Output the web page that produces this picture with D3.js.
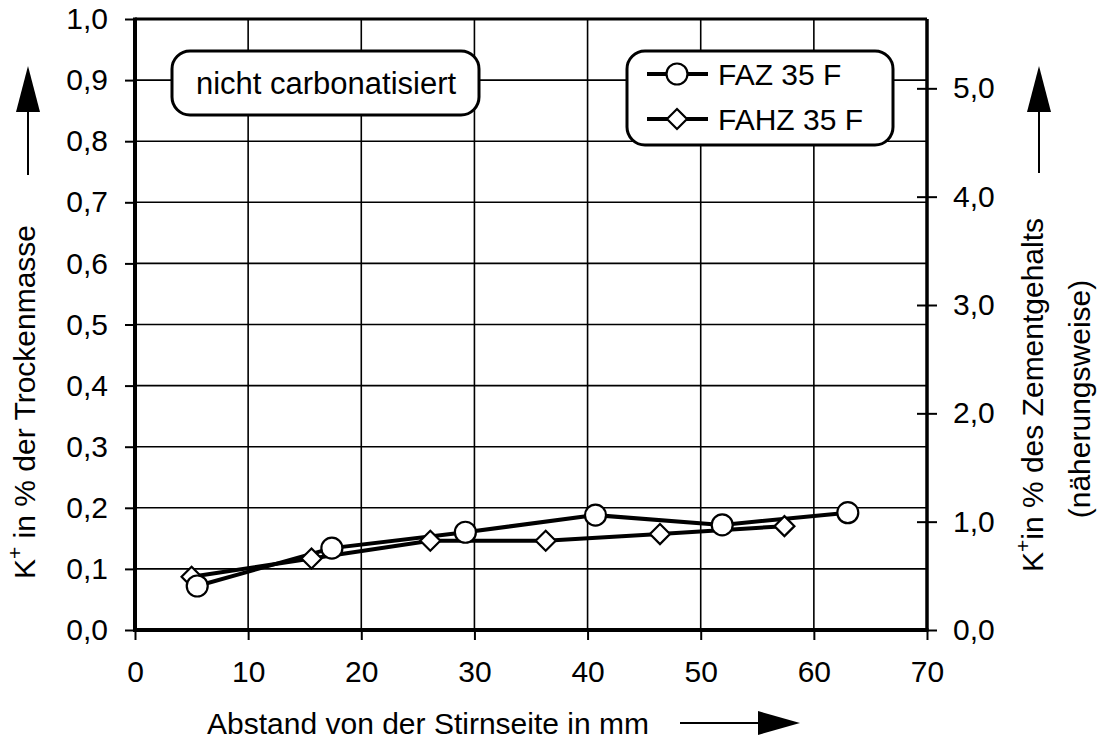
<!DOCTYPE html>
<html><head><meta charset="utf-8">
<script src="https://cdn.jsdelivr.net/npm/d3@7"></script>
<style>body{margin:0;background:#fff}svg{display:block}text{font-family:"Liberation Sans",Arial,sans-serif;fill:#000}</style>
</head><body><svg id="c" width="1101" height="753"></svg>
<script>
const xTicks = [0,10,20,30,40,50,60,70];
const yTicksLeft = [0,0.1,0.2,0.3,0.4,0.5,0.6,0.7,0.8,0.9,1.0];
const yTicksRight = [0,1,2,3,4,5];
const seriesNames = ["FAZ 35 F","FAHZ 35 F"];
const fazX = [5.5,17.4,29.2,40.7,51.9,63.0];
const fazY = [0.072,0.134,0.160,0.188,0.172,0.192];
const fahzX = [5.0,15.6,26.1,36.3,46.4,57.4];
const fahzY = [0.087,0.117,0.146,0.146,0.157,0.170];
const rightMax = 5.64;

const svg = d3.select("#c");
const m = {l:135,r:927,t:19,b:630};
const x = d3.scaleLinear().domain([0,70]).range([m.l,m.r]);
const y = d3.scaleLinear().domain([0,1]).range([m.b,m.t]);
const y2 = d3.scaleLinear().domain([0,rightMax]).range([m.b,m.t]);
const fs = 30;
const fmt = d => d3.format(".1f")(d).replace(".",",");

// gridlines
const g = svg.append("g");
g.selectAll(".vg").data(xTicks.slice(1,-1)).join("line")
 .attr("x1",d=>x(d)).attr("x2",d=>x(d)).attr("y1",m.t).attr("y2",m.b)
 .attr("stroke","#000").attr("stroke-width",1.6);
g.selectAll(".hg").data(yTicksLeft.slice(1,-1)).join("line")
 .attr("y1",d=>y(d)).attr("y2",d=>y(d)).attr("x1",m.l).attr("x2",m.r)
 .attr("stroke","#000").attr("stroke-width",1.6);

// axes
const xa = svg.append("g").attr("transform",`translate(0,${m.b})`)
 .call(d3.axisBottom(x).tickValues(xTicks).tickSize(10).tickPadding(21).tickFormat(d3.format("d")));
const ya = svg.append("g").attr("transform",`translate(${m.l},0)`)
 .call(d3.axisLeft(y).tickValues(yTicksLeft).tickSize(10).tickPadding(17).tickFormat(fmt));
const ya2 = svg.append("g").attr("transform",`translate(${m.r},0)`)
 .call(d3.axisRight(y2).tickValues(yTicksRight).tickSize(10).tickPadding(16).tickFormat(fmt));
ya2.selectAll(".tick line").attr("x1",-10);
[xa,ya,ya2].forEach(a=>{
  a.select(".domain").remove();
  a.selectAll(".tick line").attr("stroke","#000").attr("stroke-width",2);
  a.selectAll("text").attr("font-size",fs).attr("font-family",'"Liberation Sans",Arial,sans-serif');
});
// frame
svg.append("line").attr("x1",m.l).attr("x2",m.r).attr("y1",m.t).attr("y2",m.t).attr("stroke","#000").attr("stroke-width",3);
svg.append("line").attr("x1",m.r).attr("x2",m.r).attr("y1",m.t).attr("y2",m.b).attr("stroke","#000").attr("stroke-width",3.5);
svg.append("line").attr("x1",m.l).attr("x2",m.l).attr("y1",m.t-1.5).attr("y2",m.b+2).attr("stroke","#000").attr("stroke-width",4);
svg.append("line").attr("x1",m.l).attr("x2",m.r+1.5).attr("y1",m.b).attr("y2",m.b).attr("stroke","#000").attr("stroke-width",4);

// series
const line = d3.line().x(d=>x(d[0])).y(d=>y(d[1]));
const fahz = fahzX.map((v,i)=>[v,fahzY[i]]);
const faz = fazX.map((v,i)=>[v,fazY[i]]);
const diamond = (cx,cy,r)=>`M${cx},${cy-r}L${cx+r},${cy}L${cx},${cy+r}L${cx-r},${cy}Z`;
svg.append("path").attr("d",line(fahz)).attr("fill","none").attr("stroke","#000").attr("stroke-width",4);
svg.append("path").attr("d",line(faz)).attr("fill","none").attr("stroke","#000").attr("stroke-width",4);
svg.selectAll(".dm").data(fahz).join("path").attr("d",d=>diamond(x(d[0]),y(d[1]),10))
 .attr("fill","#fff").attr("stroke","#000").attr("stroke-width",2.2);
svg.selectAll(".ci").data(faz).join("circle").attr("cx",d=>x(d[0])).attr("cy",d=>y(d[1])).attr("r",10.5)
 .attr("fill","#fff").attr("stroke","#000").attr("stroke-width",2.2);

// label box
svg.append("rect").attr("x",172).attr("y",51).attr("width",307).attr("height",64).attr("rx",18)
 .attr("fill","#fff").attr("stroke","#000").attr("stroke-width",3);
svg.append("text").attr("x",326).attr("y",83).attr("text-anchor","middle").attr("dominant-baseline","central")
 .attr("font-size",fs+1).text("nicht carbonatisiert");

// legend
svg.append("rect").attr("x",627).attr("y",51).attr("width",266).attr("height",94).attr("rx",18)
 .attr("fill","#fff").attr("stroke","#000").attr("stroke-width",3);
const ly = [74,119];
seriesNames.forEach((n,i)=>{
  svg.append("line").attr("x1",647).attr("x2",708).attr("y1",ly[i]).attr("y2",ly[i]).attr("stroke","#000").attr("stroke-width",4);
  if(i===0) svg.append("circle").attr("cx",677).attr("cy",ly[i]).attr("r",10.5).attr("fill","#fff").attr("stroke","#000").attr("stroke-width",2.2);
  else svg.append("path").attr("d",diamond(677,ly[i],10)).attr("fill","#fff").attr("stroke","#000").attr("stroke-width",2.2);
  svg.append("text").attr("x",718).attr("y",ly[i]).attr("dominant-baseline","central").attr("font-size",fs).text(n);
});

// axis titles
function upArrow(cx, tip, base, bottom){
  svg.append("line").attr("x1",cx).attr("x2",cx).attr("y1",base).attr("y2",bottom).attr("stroke","#000").attr("stroke-width",2);
  svg.append("path").attr("d",`M${cx},${tip}L${cx+12},${base}L${cx-12},${base}Z`).attr("fill","#000");
}
upArrow(28,66,112,175);
upArrow(1039,66,112,173);
const lt = svg.append("text").attr("transform","translate(35,402) rotate(-90)").attr("text-anchor","middle").attr("font-size",fs);
lt.append("tspan").text("K");
lt.append("tspan").attr("font-size",fs*0.7).attr("dy",-13).text("+");
lt.append("tspan").attr("dy",13).text(" in % der Trockenmasse");
const rt = svg.append("text").attr("transform","translate(1043,395) rotate(-90)").attr("text-anchor","middle").attr("font-size",fs);
rt.append("tspan").text("K");
rt.append("tspan").attr("font-size",fs*0.7).attr("dy",-13).text("+");
rt.append("tspan").attr("dy",13).text("in % des Zementgehalts");
svg.append("text").attr("transform","translate(1090,399) rotate(-90)").attr("text-anchor","middle").attr("font-size",fs).text("(näherungsweise)");

svg.append("text").attr("x",428).attr("y",734).attr("text-anchor","middle").attr("font-size",fs).text("Abstand von der Stirnseite in mm");
svg.append("line").attr("x1",680).attr("x2",762).attr("y1",723).attr("y2",723).attr("stroke","#000").attr("stroke-width",2);
svg.append("path").attr("d","M800,723L758,711L758,735Z").attr("fill","#000");
</script></body></html>
